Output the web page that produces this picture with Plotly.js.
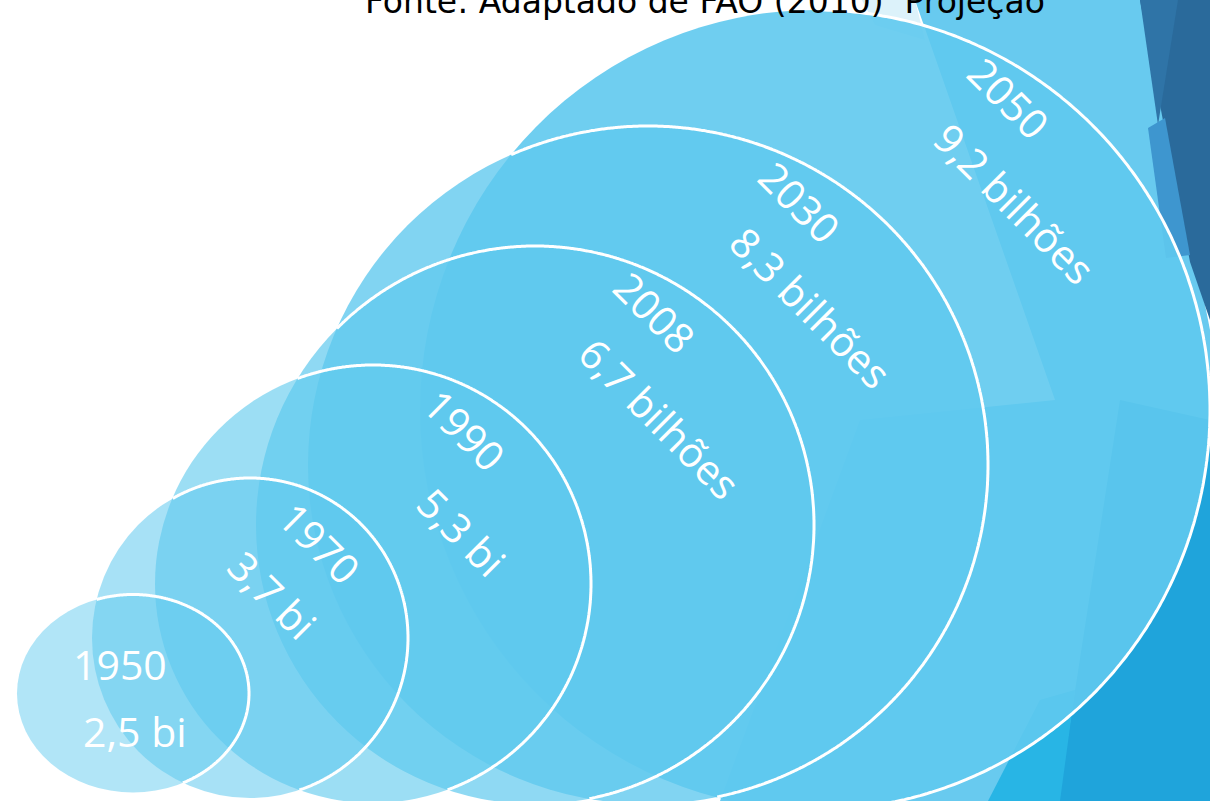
<!DOCTYPE html>
<html>
<head>
<meta charset="utf-8">
<script src="https://cdn.plot.ly/plotly-3.0.1.min.js"></script>
<style>html,body{margin:0;padding:0;background:#fff;overflow:hidden}</style>
</head>
<body>
<div id="chart" style="width:1210px;height:801px"></div>
<script>
// ---------- data ----------
const years = ['1950', '1970', '1990', '2008', '2030', '2050'];
const populationBi = [2.5, 3.7, 5.3, 6.7, 8.3, 9.2];
const valueLabels = ['2,5 bi', '3,7 bi', '5,3 bi', '6,7 bilhões', '8,3 bilhões', '9,2 bilhões'];
const sourceText = 'Fonte: Adaptado de FAO (2010)  Projeção';

// ---------- layout / style (slide pixel space) ----------
const W = 1210, H = 801;
const bubbleGeom = [
  {cx: 133, cy: 693.5, rx: 116, ry: 99},
  {cx: 250, cy: 638, rx: 158, ry: 160},
  {cx: 373, cy: 584, rx: 218, ry: 219},
  {cx: 535, cy: 525, rx: 279, ry: 279},
  {cx: 648, cy: 465, rx: 340, ry: 339},
  {cx: 815, cy: 410, rx: 395, ry: 400}
];
const bubbleAlpha = [0.49, 0.55, 0.62, 0.70, 0.79, 0.90];
const bubbleRGB = '95,201,238';
// label offsets relative to each bubble (fraction of radii)
const yearLabelOff = [[-0.11, -0.30], [0.443, -0.594], [0.422, -0.703], [0.43, -0.763], [0.447, -0.776], [0.491, -0.78]];
const valueLabelOff = [[0.02, 0.38], [0.146, -0.27], [0.408, -0.237], [0.448, -0.384], [0.479, -0.466], [0.506, -0.518]];
const labelAngle = [0, 45, 45, 45, 45, 45];

// background facets of the slide theme
const facets = [
  {pts: [[915,0],[1145,0],[1210,330],[1210,801],[720,801],[860,420],[1055,400]], color: '#68caef'},
  {pts: [[862,0],[915,0],[925,40],[875,25]], color: '#dcf2fa'},
  {pts: [[1140,0],[1210,0],[1210,320],[1190,262]], color: '#2a6a9b'},
  {pts: [[1140,0],[1178,0],[1158,125]], color: '#2f74a7'},
  {pts: [[1148,128],[1165,118],[1190,255],[1166,258]], color: '#3e96cf'},
  {pts: [[1120,400],[1210,420],[1210,801],[1058,801]], color: '#1fa4db'},
  {pts: [[988,801],[1060,801],[1075,690],[1040,700]], color: '#28b5e5'}
];

// ---------- helpers ----------
function ellPt(g, t) { return [g.cx + g.rx * Math.cos(t), g.cy + g.ry * Math.sin(t)]; }
function inside(g, p) {
  const dx = (p[0] - g.cx) / g.rx, dy = (p[1] - g.cy) / g.ry;
  return dx * dx + dy * dy <= 1;
}
function polyPath(pts) {
  return 'M' + pts.map(p => p[0].toFixed(1) + ',' + p[1].toFixed(1)).join(' L') + ' Z';
}
function linePath(pts) {
  return 'M' + pts.map(p => p[0].toFixed(1) + ',' + p[1].toFixed(1)).join(' L');
}
// outline of bubble i: only where it lies inside the next larger bubble
function outlinePts(i) {
  const g = bubbleGeom[i];
  const N = 1440;
  const pts = [];
  if (i === bubbleGeom.length - 1) {
    const t0 = -Math.PI / 2, t1 = 97 * Math.PI / 180;
    for (let k = 0; k <= 400; k++) pts.push(ellPt(g, t0 + (t1 - t0) * k / 400));
    return pts;
  }
  const nxt = bubbleGeom[i + 1];
  const ins = [];
  for (let k = 0; k < N; k++) ins.push(inside(nxt, ellPt(g, 2 * Math.PI * k / N)));
  let s = -1;
  for (let k = 0; k < N; k++) { if (ins[k] && !ins[(k - 1 + N) % N]) { s = k; break; } }
  if (s < 0) return pts;
  for (let k = 0; k < N; k++) {
    const idx = (s + k) % N;
    if (!ins[idx]) break;
    pts.push(ellPt(g, 2 * Math.PI * idx / N));
  }
  return pts;
}

// ---------- build shapes ----------
const shapes = [];
facets.forEach(f => shapes.push({type: 'path', xref: 'x', yref: 'y', path: polyPath(f.pts),
  fillcolor: f.color, line: {width: 0}, layer: 'above'}));
for (let i = bubbleGeom.length - 1; i >= 0; i--) {
  const g = bubbleGeom[i];
  shapes.push({type: 'circle', xref: 'x', yref: 'y',
    x0: g.cx - g.rx, x1: g.cx + g.rx, y0: g.cy - g.ry, y1: g.cy + g.ry,
    fillcolor: 'rgba(' + bubbleRGB + ',' + bubbleAlpha[i] + ')', line: {width: 0}, layer: 'above'});
}
for (let i = 0; i < bubbleGeom.length; i++) {
  const pts = outlinePts(i);
  if (pts.length > 1) shapes.push({type: 'path', xref: 'x', yref: 'y', path: linePath(pts),
    line: {color: '#ffffff', width: 3}, layer: 'above'});
}

// ---------- annotations ----------
const annotations = [];
const labelFont = {family: 'Open Sans, Lato, sans-serif', size: 41, color: '#ffffff'};
years.forEach((yr, i) => {
  const g = bubbleGeom[i];
  annotations.push({xref: 'x', yref: 'y', x: g.cx + yearLabelOff[i][0] * g.rx, y: g.cy + yearLabelOff[i][1] * g.ry,
    text: yr, showarrow: false, textangle: labelAngle[i], font: labelFont, xanchor: 'center', yanchor: 'middle'});
  annotations.push({xref: 'x', yref: 'y', x: g.cx + valueLabelOff[i][0] * g.rx, y: g.cy + valueLabelOff[i][1] * g.ry,
    text: valueLabels[i], showarrow: false, textangle: labelAngle[i], font: labelFont, xanchor: 'center', yanchor: 'middle'});
});
annotations.push({xref: 'x', yref: 'y', x: 705, y: 1, text: sourceText, showarrow: false,
  font: {family: 'DejaVu Sans, sans-serif', size: 33, color: '#000000'}, xanchor: 'center', yanchor: 'middle'});
// faint remnant text of the slide near the bottom
annotations.push({xref: 'x', yref: 'y', x: 668, y: 766, text: '...', showarrow: false, textangle: -38,
  font: {family: 'Open Sans, sans-serif', size: 9, color: '#ffffff'}, xanchor: 'center', yanchor: 'middle'});

const layout = {
  width: W, height: H,
  margin: {l: 0, r: 0, t: 0, b: 0, pad: 0},
  paper_bgcolor: '#ffffff', plot_bgcolor: '#ffffff',
  xaxis: {range: [0, W], visible: false, fixedrange: true},
  yaxis: {range: [H, 0], visible: false, fixedrange: true},
  showlegend: false,
  shapes: shapes,
  annotations: annotations
};

Plotly.newPlot('chart', [{type: 'scatter', x: [], y: [], hoverinfo: 'skip'}], layout,
  {displayModeBar: false, staticPlot: true});
</script>
</body>
</html>
